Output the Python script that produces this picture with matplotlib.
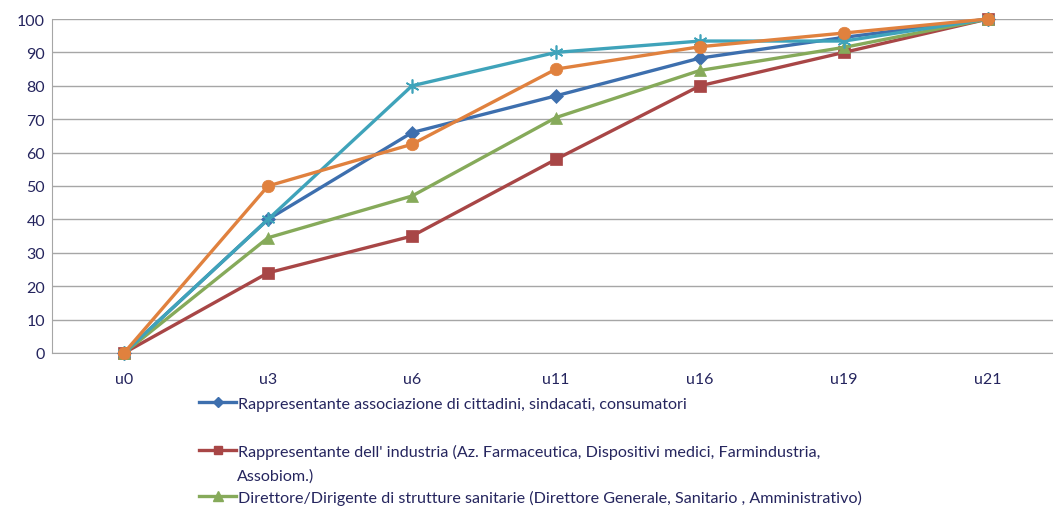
import matplotlib.pyplot as plt
from matplotlib.lines import Line2D

# === DATA ===
categories = ['u0', 'u3', 'u6', 'u11', 'u16', 'u19', 'u21']
cittadini = [0, 40, 66, 77, 88.3, 94.5, 100]
industria = [0, 24, 35, 58, 80, 90, 100]
direttori = [0, 34.5, 47, 70.5, 84.6, 91.5, 100]
serie4 = [0, 40, 80, 90, 93.4, 93.4, 100]
serie5 = [0, 50, 62.5, 85, 91.7, 95.8, 100]

labels = [
    'Rappresentante associazione di cittadini, sindacati, consumatori',
    "Rappresentante dell' industria (Az. Farmaceutica, Dispositivi medici, Farmindustria,",
    'Direttore/Dirigente di strutture sanitarie (Direttore Generale, Sanitario , Amministrativo)',
]
label2_cont = 'Assobiom.)'

# === SETTINGS ===
text_col = '#25255e'
grid_col = '#a6a6a6'
plt.rcParams.update({
    'font.family': ['Lato', 'DejaVu Sans'],
    'font.size': 11,
})

fig = plt.figure(figsize=(10.53, 5.10), dpi=100)
ax = fig.add_axes([52 / 1053, 1 - 354 / 510, 1008 / 1053, 334 / 510])

x = list(range(len(categories)))
styles = [
    (cittadini, '#3d6fae', 'D', 7),
    (industria, '#a84646', 's', 8),
    (direttori, '#86aa5a', '^', 9),
    (serie4, '#3fa3ba', (6, 2, 0), 10),
    (serie5, '#e0813e', 'o', 9),
]
handles = []
for vals, col, mk, ms in styles:
    ln, = ax.plot(x, vals, color=col, lw=2.4, marker=mk, markersize=ms,
                  markeredgecolor=col, markeredgewidth=1.2 if mk == (6, 2, 0) else 0.5,
                  clip_on=False, zorder=3)
    handles.append(ln)

ax.set_xlim(-0.5, len(categories) - 0.5)
ax.set_ylim(0, 100)
ax.set_yticks(range(0, 101, 10))
ax.set_xticks(x)
ax.set_xticklabels(categories)
ax.grid(axis='y', color=grid_col, lw=1.0)
ax.set_axisbelow(True)
for s in ['top', 'right']:
    ax.spines[s].set_visible(False)
ax.spines['left'].set_color(grid_col)
ax.spines['bottom'].set_color(grid_col)
ax.tick_params(length=0, colors=text_col, labelsize=11.5)
ax.tick_params(axis='x', pad=14)
ax.tick_params(axis='y', pad=5)

# legend entries, placed one by one
leg_fs = 11.6
leg_y = [405, 452, 498]
for h, lab, yy in zip(handles[:3], labels, leg_y):
    proxy = Line2D([], [], color=h.get_color(), lw=2.4, marker=h.get_marker(),
                   markersize=h.get_markersize() * 0.75, markeredgecolor=h.get_color())
    fig.legend([proxy], [lab], loc='center left',
               bbox_to_anchor=(199 / 1053, 1 - yy / 510), frameon=False,
               handlelength=2.3, handletextpad=0.15, borderpad=0, borderaxespad=0,
               fontsize=leg_fs, labelcolor=text_col)
fig.text(237 / 1053, 1 - 477 / 510, label2_cont, fontsize=leg_fs, color=text_col,
         va='center', ha='left')

fig.savefig('out.png', dpi=100)
